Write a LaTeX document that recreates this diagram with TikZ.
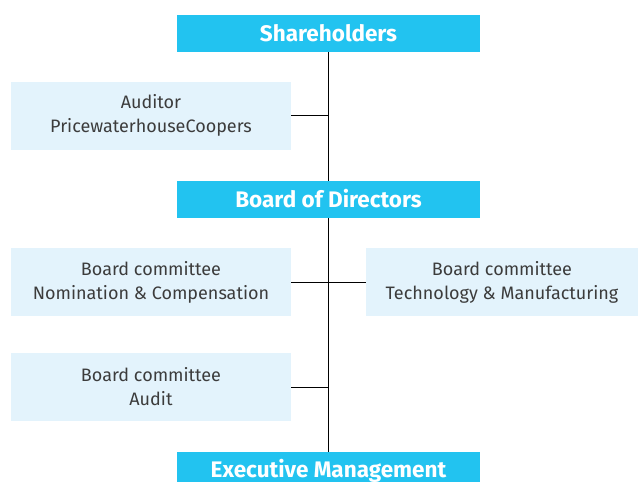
\documentclass[tikz,border=0pt]{standalone}
\usepackage{fontspec}
\setmainfont{Fira Sans}
\usepackage{xcolor}
\usepackage{tikz}
\usetikzlibrary{backgrounds}

\definecolor{headblue}{HTML}{22C3F0}
\definecolor{paleblue}{HTML}{E3F3FC}
\definecolor{textgrey}{HTML}{3C3C3C}

\begin{document}
\begin{tikzpicture}[
  x=1pt, y=-1pt,
  headbox/.style={fill=headblue, text=white, inner sep=0pt,
    minimum width=303pt, minimum height=37pt,
    font=\fontsize{22.5}{26}\selectfont\bfseries},
  sidebox/.style={fill=paleblue, text=textgrey, inner sep=0pt,
    minimum height=68pt, align=center,
    font=\fontsize{18}{24}\selectfont},
  link/.style={draw=black, line width=0.9pt}
]
\clip (0,0) rectangle (638,482);
\useasboundingbox (0,0) rectangle (638,482);

% main line of command
\node[headbox] (share) at (328.5,33) {Shareholders};
\node[headbox] (board) at (328.5,199) {Board of Directors};
\node[headbox] (exec) at (328.5,470.5) {Executive Management};

% side boxes
\node[sidebox, minimum width=280pt] (auditor) at (151,115.5) {Auditor\\PricewaterhouseCoopers};
\node[sidebox, minimum width=280pt] (nomcomp) at (151,282) {Board committee\\Nomination \& Compensation};
\node[sidebox, minimum width=272pt] (techman) at (502,282) {Board committee\\Technology \& Manufacturing};
\node[sidebox, minimum width=280pt] (auditc) at (151,387) {Board committee\\Audit};

% connectors, behind the boxes
\begin{pgfonlayer}{background}
\draw[link] (share.south) -- (exec.north);
\draw[link] (auditor.east) -- (auditor.east -| share.south);
\draw[link] (nomcomp.east) -- (techman.west);
\draw[link] (auditc.east) -- (auditc.east -| share.south);
\end{pgfonlayer}
\end{tikzpicture}
\end{document}
